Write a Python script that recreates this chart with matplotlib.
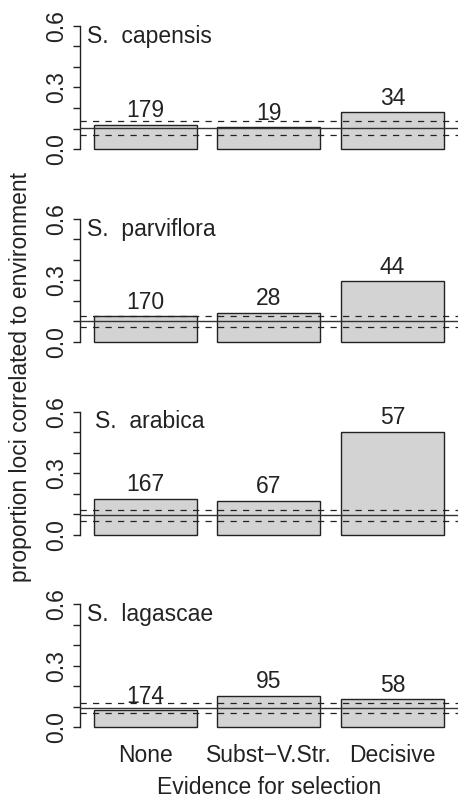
import matplotlib
matplotlib.use("Agg")
import matplotlib.pyplot as plt
import numpy as np

plt.rcParams['font.family'] = ['Liberation Sans', 'DejaVu Sans']

species = ["S.  capensis", "S.  parviflora", "S.  arabica", "S.  lagascae"]
categories = ["None", "Subst\u2212V.Str.", "Decisive"]

# proportion of loci correlated to environment, per species x category
proportions = [
    [0.118, 0.105, 0.179],
    [0.124, 0.142, 0.295],
    [0.174, 0.164, 0.500],
    [0.084, 0.154, 0.137],
]
# number of loci in each category (labels above bars)
counts = [
    [179, 19, 34],
    [170, 28, 44],
    [167, 67, 57],
    [174, 95, 58],
]
# genome-wide mean (solid) and its interval (dashed)
mean_line = [0.102, 0.101, 0.096, 0.096]
lower_line = [0.070, 0.072, 0.064, 0.068]
upper_line = [0.135, 0.126, 0.120, 0.118]

W, H = 458, 798
fig = plt.figure(figsize=(W / 100, H / 100), dpi=100)

# layout, in pixels
left_px = 79.7
zero_px = [149, 341.8, 534.6, 727.4]
unit_px = 205.0
ylo, yhi = -0.024, 0.624
label_x = [0.135, 0.135, 0.212, 0.135]
fs = 16.5

width = 1.0
space = 0.2
xpos = space + np.arange(3) * (width + space) + width / 2

for i, sp in enumerate(species):
    bottom_px = zero_px[i] - ylo * unit_px
    height_px = (yhi - ylo) * unit_px
    ax = fig.add_axes([left_px / W, 1 - bottom_px / H, 1 - left_px / W, height_px / H])
    ax.set_xlim(0.064, 3.736)
    ax.set_ylim(ylo, yhi)

    ax.bar(xpos, proportions[i], width, color='#d3d3d3', edgecolor='#222222',
           linewidth=1.0, zorder=2)
    ax.axhline(mean_line[i], color='#333333', lw=1.0, zorder=3)
    ax.axhline(lower_line[i], color='#222222', lw=0.9, ls=(0, (5, 5)), zorder=3)
    ax.axhline(upper_line[i], color='#222222', lw=0.9, ls=(0, (5, 5)), zorder=3)

    for x, p, n in zip(xpos, proportions[i], counts[i]):
        ax.annotate(str(n), (x, p), xytext=(0, 5.5), textcoords='offset points',
                    ha='center', va='baseline', fontsize=fs, color='#222222')

    ax.text(label_x[i], 0.55, sp, ha='left', va='center', fontsize=fs, color='#222222')

    for s in ['top', 'right', 'bottom']:
        ax.spines[s].set_visible(False)
    ax.spines['left'].set_bounds(0, 0.6)
    ax.spines['left'].set_linewidth(1.0)
    ax.spines['left'].set_color('#222222')
    ax.set_yticks(np.arange(7) * 0.1)
    ax.set_yticklabels(["0.0", "", "", "0.3", "", "", "0.6"], rotation=90,
                       va='center', fontsize=fs)
    ax.tick_params(axis='y', length=5, width=1.0, pad=3.5, colors='#222222')
    ax.patch.set_visible(False)

    if i == len(species) - 1:
        ax.set_xticks(xpos)
        ax.set_xticklabels(categories, fontsize=fs)
        ax.tick_params(axis='x', length=0, pad=8.5, colors='#222222')
    else:
        ax.set_xticks([])

fig.text((left_px + W) / 2 / W, 1 - 788 / H, "Evidence for selection",
         ha='center', va='center', fontsize=fs, color='#222222')
fig.text(21 / W, 1 - 377 / H, "proportion loci correlated to environment",
         rotation=90, ha='center', va='center', fontsize=fs, color='#222222')

fig.savefig("out.png", dpi=100)
